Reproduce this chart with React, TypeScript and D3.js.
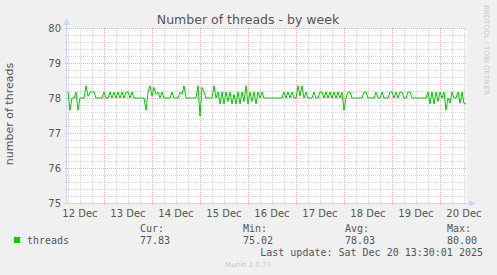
import React from "react";
import * as d3 from "d3";

const title = "Number of threads - by week";
const yLabel = "number of threads";
const yTicks = [75, 76, 77, 78, 79, 80];
const dayLabels = ["12 Dec", "13 Dec", "14 Dec", "15 Dec", "16 Dec", "17 Dec", "18 Dec", "19 Dec", "20 Dec"];
const seriesName = "threads";
const statNames = ["Cur:", "Min:", "Avg:", "Max:"];
const statValues = ["77.83", "75.02", "78.03", "80.00"];
const lastUpdate = "Last update: Sat Dec 20 13:30:01 2025";

// hourly samples, from Dec 12 06:00 to Dec 20 13:00
const threads = [
  78.17, 77.65, 78.0, 78.0, 78.17, 77.65, 78.0, 78.0, 78.0, 78.35,
  78.05, 78.17, 78.17, 78.17, 78.0, 78.0, 78.0, 78.0, 78.17, 78.0,
  78.0, 78.17, 78.0, 78.17, 78.0, 78.17, 78.0, 78.17, 78.0, 78.17,
  78.17, 78.0, 78.17, 78.0, 78.0, 78.0, 78.0, 78.0, 78.0, 77.65,
  78.17, 78.35, 78.05, 78.3, 78.1, 78.17, 78.0, 78.17, 78.0, 78.0,
  78.0, 78.0, 78.17, 78.0, 78.0, 78.0, 78.17, 78.1, 78.35, 78.0,
  78.0, 78.0, 78.0, 78.0, 78.0, 78.35, 77.48, 78.3, 78.17, 78.0,
  78.0, 78.0, 78.0, 78.35, 78.0, 78.17, 77.83, 78.17, 77.83, 78.17,
  77.9, 78.17, 77.83, 78.1, 77.83, 78.17, 77.83, 78.17, 77.9, 78.35,
  77.83, 78.17, 77.9, 78.17, 77.83, 78.17, 78.0, 78.17, 78.0, 78.0,
  78.0, 78.0, 78.0, 78.0, 78.0, 78.0, 78.0, 78.0, 78.17, 78.0,
  78.17, 78.0, 78.17, 78.0, 78.0, 78.35, 78.05, 78.35, 78.0, 78.17,
  78.0, 78.0, 78.0, 78.17, 78.0, 78.0, 78.17, 78.17, 78.0, 78.17,
  78.0, 78.17, 78.0, 78.17, 78.0, 78.17, 78.0, 78.17, 77.65, 78.0,
  78.17, 78.17, 78.0, 78.0, 78.0, 78.0, 78.0, 78.0, 78.17, 78.17,
  78.0, 78.0, 78.0, 78.0, 78.17, 78.0, 78.0, 78.17, 78.0, 78.0,
  78.0, 78.17, 78.17, 78.0, 78.17, 78.0, 78.17, 78.17, 78.0, 78.0,
  78.17, 78.17, 78.0, 78.0, 78.0, 78.0, 78.0, 78.0, 78.0, 78.0,
  78.17, 77.83, 78.17, 77.83, 78.17, 77.9, 78.17, 78.0, 78.17, 77.65,
  78.0, 77.85, 78.17, 78.0, 78.0, 78.17, 77.85, 78.17, 77.85, 77.83,
];

const W = 497;
const H = 275;
const left = 67;
const right = 467;
const top = 28;
const bottom = 203;
const HOUR = 3600 * 1000;
const tStart = Date.UTC(2025, 11, 12, 5, 30);
const tEnd = Date.UTC(2025, 11, 20, 13, 30);

export default function App() {
  const x = d3.scaleUtc().domain([new Date(tStart), new Date(tEnd)]).range([left, right]);
  const y = d3.scaleLinear().domain([75, 80]).range([bottom, top]);

  const data = threads.map((v, i) => ({ t: new Date(tStart + HOUR / 2 + i * HOUR), v }));
  const line = d3
    .line<{ t: Date; v: number }>()
    .x((d) => x(d.t))
    .y((d) => y(d.v));

  const minorY = d3.range(75, 80.001, 0.2).filter((v) => Math.abs(v - Math.round(v)) > 0.01);
  const minorX = d3.utcHour.every(6)!.range(new Date(tStart), new Date(tEnd)).filter((d) => d.getUTCHours() !== 0);
  const majorX = d3.utcDay.range(new Date(tStart), new Date(tEnd));
  const labelDays = dayLabels.map((l, i) => ({ l, t: new Date(Date.UTC(2025, 11, 12 + i, 12)) }));

  const minorColor = "#dadada";
  const majorColor = "#eab4b4";
  const axisColor = "#CFD6F8";
  const font = "'DejaVu Sans', sans-serif";
  const mono = "'DejaVu Sans Mono', monospace";
  const statX = [140, 243, 345, 447];

  return (
    <svg width={W} height={H} style={{ position: "absolute", left: 0, top: 0 }}>
      <rect x={0} y={0} width={W} height={H} fill="#F0F0F0" />
      <rect x={left} y={top} width={right - left} height={bottom - top} fill="#ffffff" />
      {minorY.map((v) => (
        <line key={"my" + v} x1={left - 2} x2={right} y1={Math.round(y(v)) + 0.5} y2={Math.round(y(v)) + 0.5}
          stroke={minorColor} strokeDasharray="1,1" />
      ))}
      {minorX.map((d) => (
        <line key={"mx" + +d} x1={Math.round(x(d)) + 0.5} x2={Math.round(x(d)) + 0.5} y1={top} y2={bottom + 2}
          stroke={minorColor} strokeDasharray="1,1" />
      ))}
      {yTicks.map((v) => (
        <line key={"My" + v} x1={left - 2} x2={right} y1={Math.round(y(v)) + 0.5} y2={Math.round(y(v)) + 0.5}
          stroke={majorColor} strokeDasharray="1,1" />
      ))}
      {majorX.map((d) => (
        <line key={"Mx" + +d} x1={Math.round(x(d)) + 0.5} x2={Math.round(x(d)) + 0.5} y1={top} y2={bottom + 3}
          stroke={majorColor} strokeDasharray="1,1" />
      ))}
      {/* axes */}
      <line x1={left - 0.5} x2={left - 0.5} y1={bottom + 0.5} y2={top - 5} stroke={axisColor} />
      <path d={`M${left - 4},${top - 3} L${left - 0.5},${top - 10} L${left + 3},${top - 3} Z`} fill={axisColor} />
      <line x1={left - 0.5} x2={right + 3} y1={bottom + 0.5} y2={bottom + 0.5} stroke={axisColor} />
      <path d={`M${right + 2},${bottom - 3} L${right + 9},${bottom + 0.5} L${right + 2},${bottom + 4} Z`} fill={axisColor} />
      {/* series */}
      <path d={line(data) ?? ""} fill="none" stroke="#00CC00" strokeWidth={1} />
      {/* title */}
      <text x={248} y={24} textAnchor="middle" fontFamily={font} fontSize={12.5} fill="#555">
        {title}
      </text>
      <text transform={`translate(13,114) rotate(-90)`} textAnchor="middle" fontFamily={font} fontSize={11} fill="#555">
        {yLabel}
      </text>
      {yTicks.map((v) => (
        <text key={"yt" + v} x={61} y={y(v) + 3.5} textAnchor="end" fontFamily={font} fontSize={10} fill="#555">
          {v}
        </text>
      ))}
      {labelDays.map(({ l, t }) => (
        <text key={l} x={x(t)} y={217} textAnchor="middle" fontFamily={font} fontSize={10} fill="#555">
          {l}
        </text>
      ))}
      {/* legend */}
      <rect x={14} y={237} width={6} height={6} fill="#00CC00" />
      <text x={27} y={244} fontFamily={mono} fontSize={10} fill="#555">{seriesName}</text>
      {statNames.map((s, i) => (
        <text key={s} x={statX[i]} y={232} fontFamily={mono} fontSize={10} fill="#555">{s}</text>
      ))}
      {statValues.map((s, i) => (
        <text key={"v" + i} x={statX[i]} y={244} fontFamily={mono} fontSize={10} fill="#555">{s}</text>
      ))}
      <text x={483} y={256} textAnchor="end" fontFamily={mono} fontSize={10} fill="#555">{lastUpdate}</text>
      <text x={248} y={267} textAnchor="middle" fontFamily={font} fontSize={7} fill="#c8c8c8">Munin 2.0.73</text>
      <text transform={`translate(484,5) rotate(90)`} fontFamily={font} fontSize={7} fill="#c8c8c8">
        RRDTOOL / TOBI OETIKER
      </text>
    </svg>
  );
}
